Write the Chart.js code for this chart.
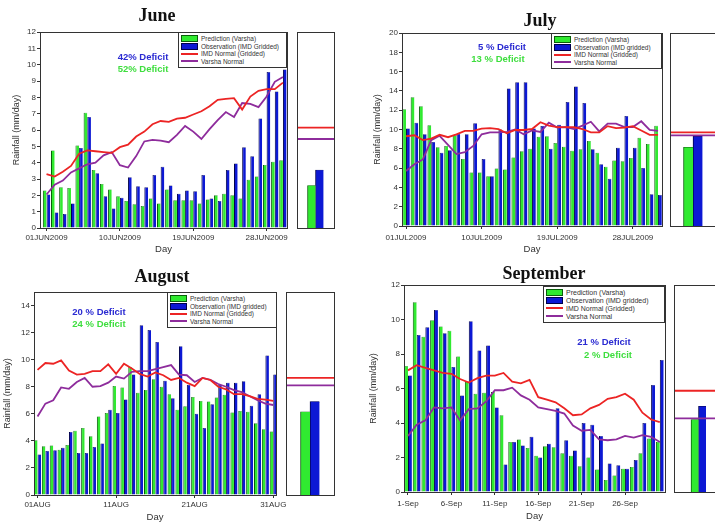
<!DOCTYPE html>
<html>
<head>
<meta charset="utf-8">
<script src="https://cdn.jsdelivr.net/npm/chart.js@4.4.1/dist/chart.umd.min.js"></script>
<style>
  html, body { margin: 0; padding: 0; background: #fff; overflow: hidden; }
  #page { position: relative; width: 715px; height: 524px; overflow: hidden; }
  #page canvas { position: absolute; left: 0; top: 0; }
  .ttl { position: absolute; transform: translate(-50%, -50%); white-space: nowrap;
         font: bold 18px "Liberation Serif", "Times New Roman", serif; color: #111; }
  .note { position: absolute; transform: translate(-50%, -50%); white-space: nowrap;
          font: bold 9.5px "Liberation Sans", Arial, sans-serif; }
  .lgd { position: absolute; box-sizing: border-box; background: #fff; border: 1px solid #333;
         font-family: "Liberation Sans", Arial, sans-serif; color: #333; padding: 2px 0 2px 0; z-index: 5; }
  .lgd .row { display: flex; align-items: center; white-space: nowrap; padding-left: 2px; }
  .lgd .sw { display: inline-block; width: 17px; margin-right: 3px; box-sizing: border-box; }
  .lgd .sw.bar { height: 7px; border: 1px solid; }
  .lgd .sw.ln { height: 2px; }
</style>
</head>
<body>
<div id="page"></div>
<script>
// ---- June ----
const junePred   = [2.3, 4.75, 2.5, 2.45, 5.05, 7.05, 3.55, 2.7, 2.35, 1.95, 1.65, 1.45, 1.35, 1.8, 1.5, 2.35, 1.7, 1.7, 1.7, 1.5, 1.75, 2.0, 2.1, 2.0, 1.8, 2.95, 3.15, 3.85, 4.05, 4.15];
const juneObs    = [2.05, 0.95, 0.85, 1.5, 4.9, 6.8, 3.35, 1.95, 1.2, 1.85, 3.1, 2.55, 2.5, 3.25, 3.75, 2.6, 2.1, 2.3, 2.25, 3.25, 1.8, 1.65, 3.55, 3.95, 4.95, 4.4, 6.7, 9.55, 8.35, 9.7];
const juneImd    = [3.3, 3.15, 3.45, 3.8, 4.55, 4.75, 4.7, 4.65, 4.6, 4.95, 5.1, 5.6, 5.9, 6.35, 6.55, 6.5, 6.7, 6.75, 6.95, 7.15, 7.45, 7.85, 7.9, 7.95, 7.25, 8.05, 8.4, 8.5, 8.5, 8.9];
const juneVarsha = [2.05, 2.65, 2.9, 3.4, 3.65, 3.9, 4.0, 4.45, 4.65, 3.85, 3.7, 4.4, 5.3, 5.4, 5.35, 5.25, 5.7, 6.25, 5.9, 5.45, 6.05, 6.6, 7.1, 6.8, 7.65, 7.6, 7.4, 8.05, 8.95, 9.25];
const juneSide   = [2.6, 3.55, 6.15, 5.45];   // pred, obs, IMD normal, Varsha normal (monthly mean)
const juneNotes  = ['42% Deficit', '52% Deficit'];
const juneTickDays = [1, 10, 19, 28];
const juneTickLabels = ['01JUN2009', '10JUN2009', '19JUN2009', '28JUN2009'];
const juneYTicks = [0, 1, 2, 3, 4, 5, 6, 7, 8, 9, 10, 11, 12];

// ---- July ----
const julyPred   = [12.1, 13.35, 12.4, 10.45, 8.15, 8.3, 9.4, 6.95, 5.55, 5.55, 5.15, 5.95, 5.85, 7.1, 7.75, 8.0, 9.25, 9.3, 8.6, 8.2, 7.8, 7.95, 8.8, 7.6, 6.15, 6.8, 6.7, 7.05, 9.15, 8.5, 10.4];
const julyObs    = [10.1, 10.7, 9.5, 8.7, 7.6, 7.85, 9.55, 9.5, 10.65, 6.95, 5.15, 10.0, 14.25, 14.9, 14.9, 10.1, 10.35, 8.0, 10.5, 12.85, 14.45, 12.75, 7.95, 6.4, 4.9, 8.1, 11.4, 8.1, 6.0, 3.3, 3.2];
const julyImd    = [9.3, 9.4, 8.9, 9.05, 9.45, 9.2, 9.5, 9.85, 9.85, 10.1, 10.15, 10.05, 9.6, 9.95, 9.95, 10.05, 10.75, 10.4, 10.25, 10.25, 10.25, 10.05, 9.7, 9.7, 10.35, 10.15, 10.2, 10.35, 9.9, 9.45, 9.45];
const julyVarsha = [5.7, 6.4, 6.9, 8.9, 9.35, 8.4, 7.45, 7.65, 8.3, 9.5, 9.7, 9.7, 9.75, 10.0, 9.5, 9.9, 9.75, 10.7, 10.2, 10.25, 10.05, 10.4, 10.8, 9.8, 10.6, 10.6, 10.25, 10.25, 10.85, 9.95, 9.85];
const julySide   = [8.15, 9.3, 9.7, 9.4];
const julyNotes  = ['5 % Deficit', '13 % Deficit'];
const julyTickDays = [1, 10, 19, 28];
const julyTickLabels = ['01JUL2009', '10JUL2009', '19JUL2009', '28JUL2009'];
const julyYTicks = [0, 2, 4, 6, 8, 10, 12, 14, 16, 18, 20];

// ---- August ----
const augPred    = [4.05, 3.6, 3.65, 3.35, 3.7, 4.75, 4.95, 4.35, 5.8, 6.05, 8.05, 7.95, 9.45, 7.55, 7.75, 8.55, 8.0, 7.45, 6.3, 6.55, 7.25, 6.95, 6.9, 7.2, 7.4, 6.1, 6.2, 6.15, 5.3, 4.85, 4.7];
const augObs     = [3.0, 3.25, 3.3, 3.5, 4.65, 3.1, 3.1, 3.55, 3.8, 6.3, 6.05, 7.05, 8.9, 12.55, 12.2, 11.3, 8.45, 7.15, 11.0, 8.15, 6.0, 4.95, 6.7, 8.15, 8.3, 8.3, 8.4, 6.6, 7.45, 10.3, 8.9];
const augImd     = [9.25, 9.75, 9.7, 9.95, 9.2, 8.9, 8.95, 9.15, 9.15, 9.65, 8.95, 9.7, 9.35, 8.95, 8.75, 9.05, 8.85, 8.5, 8.65, 8.3, 8.05, 8.65, 8.5, 8.0, 7.8, 7.45, 7.45, 7.3, 7.1, 7.05, 6.95];
const augVarsha  = [5.8, 6.75, 7.0, 7.95, 7.85, 8.35, 8.65, 8.0, 8.05, 8.3, 8.75, 8.6, 9.1, 9.15, 9.15, 9.3, 9.45, 9.6, 8.9, 8.85, 8.35, 8.65, 8.5, 8.2, 8.0, 7.75, 7.6, 7.3, 7.0, 6.75, 6.65];
const augSide    = [6.15, 6.9, 8.65, 8.1];
const augNotes   = ['20 % Deficit', '24 % Deficit'];
const augTickDays = [1, 11, 21, 31];
const augTickLabels = ['01AUG', '11AUG', '21AUG', '31AUG'];
const augYTicks  = [0, 2, 4, 6, 8, 10, 12, 14];

// ---- September ----
const sepPred    = [7.3, 11.0, 9.0, 9.95, 9.6, 9.35, 7.85, 6.4, 5.7, 5.75, 5.8, 4.45, 2.9, 3.05, 2.55, 2.1, 2.65, 2.6, 2.25, 2.1, 1.5, 2.0, 1.3, 0.7, 0.95, 1.35, 1.45, 2.25, 3.1, 2.9];
const sepObs     = [6.75, 9.1, 9.55, 10.55, 9.2, 7.25, 5.6, 9.9, 8.2, 8.5, 4.9, 1.6, 2.9, 2.7, 3.2, 2.0, 2.8, 4.85, 3.0, 2.4, 4.0, 3.9, 3.25, 1.65, 1.55, 1.35, 1.85, 4.0, 6.2, 7.65];
const sepImd     = [7.05, 7.35, 7.2, 7.05, 6.9, 6.85, 6.55, 6.35, 6.6, 6.75, 6.75, 6.9, 6.4, 6.3, 6.5, 5.5, 5.35, 5.2, 4.85, 4.45, 4.5, 4.85, 5.05, 5.4, 5.5, 5.7, 5.35, 4.6, 4.2, 4.05];
const sepVarsha  = [3.25, 3.9, 4.15, 4.9, 4.85, 4.9, 4.15, 4.8, 4.85, 5.25, 5.9, 5.9, 6.05, 5.6, 5.35, 4.9, 4.8, 4.7, 4.55, 3.85, 3.55, 3.6, 3.05, 3.0, 3.05, 3.25, 3.15, 3.3, 3.2, 2.9];
const sepSide    = [4.2, 4.97, 5.87, 4.27];
const sepNotes   = ['21 % Deficit', '2 % Deficit'];
const sepTickDays = [1, 6, 11, 16, 21, 26];
const sepTickLabels = ['1-Sep', '6-Sep', '11-Sep', '16-Sep', '21-Sep', '26-Sep'];
const sepYTicks  = [0, 2, 4, 6, 8, 10, 12];

const SIDE_SLOTS = ['', 'mean', ''];

const W = 740, H = 524;
const GREEN = '#30ea30', GREEN_EDGE = '#0b5e0b';
const BLUE = '#0c18d4', BLUE_EDGE = '#00004a';
const RED = '#ec2424', PURPLE = '#8e2c9c';
const NOTE_COLORS = ['#2a2ad2', '#3ede3e'];

Chart.defaults.font.family = '"Liberation Sans", Arial, sans-serif';
Chart.defaults.color = '#333';

const PANELS = [
  { title: 'June', pred: junePred, obs: juneObs, imd: juneImd, varsha: juneVarsha, side: juneSide, notes: juneNotes,
    obsLabel: 'Observation (IMD Gridded)', xTicks: juneTickDays, xLabels: juneTickLabels, yTicks: juneYTicks,
    box: { l: 40, t: 32, r: 287, b: 228 }, xRange: [0.2, 30.5], yMax: 12, yTitleX: 17, xTitleY: 250, xPad: 2,
    sideBox: { l: 297, t: 32, r: 334, b: 228 }, sideBar: 8,
    titlePos: [157, 15], notePos: [[143, 56], [143, 68]], legend: [178, 32, 109, 36, 6.5] },
  { title: 'July', pred: julyPred, obs: julyObs, imd: julyImd, varsha: julyVarsha, side: julySide, notes: julyNotes,
    obsLabel: 'Observation (IMD gridded)', xTicks: julyTickDays, xLabels: julyTickLabels, yTicks: julyYTicks,
    box: { l: 402, t: 33, r: 662, b: 226 }, xRange: [0.52, 31.47], yMax: 20, yTitleX: 378, xTitleY: 250, xPad: 4,
    sideBox: { l: 670, t: 33, r: 716, b: 226 }, sideBar: 9.5,
    titlePos: [540, 20], notePos: [[502, 46], [498, 58]], legend: [551, 33, 111, 36, 6.5] },
  { title: 'August', pred: augPred, obs: augObs, imd: augImd, varsha: augVarsha, side: augSide, notes: augNotes,
    obsLabel: 'Observation (IMD gridded)', xTicks: augTickDays, xLabels: augTickLabels, yTicks: augYTicks,
    box: { l: 34, t: 292, r: 276, b: 495 }, xRange: [0.55, 31.35], yMax: 15, yTitleX: 8, xTitleY: 518, xPad: 2,
    sideBox: { l: 286, t: 292, r: 334, b: 495 }, sideBar: 9.5,
    titlePos: [162, 276], notePos: [[99, 311], [99, 323]], legend: [167, 292, 110, 36, 6.5] },
  { title: 'September', pred: sepPred, obs: sepObs, imd: sepImd, varsha: sepVarsha, side: sepSide, notes: sepNotes,
    obsLabel: 'Observation (IMD gridded)', xTicks: sepTickDays, xLabels: sepTickLabels, yTicks: sepYTicks,
    box: { l: 404, t: 285, r: 665, b: 492 }, xRange: [0.54, 30.6], yMax: 12, yTitleX: 374, xTitleY: 517, xPad: 3.5,
    sideBox: { l: 674, t: 285, r: 723, b: 492 }, sideBar: 7.5,
    titlePos: [544, 273], notePos: [[604, 341], [608, 354]], legend: [543, 286, 122, 37, 7] }
];

const page = document.getElementById('page');

// cadre complet autour de la zone de tracé
const framePlugin = {
  id: 'frame',
  afterDraw(chart) {
    const { ctx, chartArea: a } = chart;
    ctx.save();
    ctx.strokeStyle = '#333';
    ctx.lineWidth = 1;
    ctx.strokeRect(Math.round(a.left) + 0.5, Math.round(a.top) + 0.5, Math.round(a.width), Math.round(a.height));
    ctx.restore();
  }
};

function addCanvas() {
  const c = document.createElement('canvas');
  c.width = W; c.height = H;
  c.style.width = W + 'px'; c.style.height = H + 'px';
  page.appendChild(c);
  return c;
}

function addText(cls, text, [x, y], color) {
  const d = document.createElement('div');
  d.className = cls;
  d.textContent = text;
  d.style.left = x + 'px';
  d.style.top = y + 'px';
  if (color) d.style.color = color;
  page.appendChild(d);
}

const pts = vals => vals.map((y, i) => ({ x: i + 1, y }));

function barSet(label, data, fill, edge, extra) {
  return Object.assign({ type: 'bar', label, data, backgroundColor: fill, borderColor: edge,
    borderWidth: { left: 1, right: 0, top: 0.5, bottom: 0 }, order: 1 }, extra || {});
}
function lineSet(label, data, color) {
  return { type: 'line', label, data, borderColor: color, borderWidth: 1.8, pointRadius: 0, tension: 0, order: 0 };
}

function mainChart(p) {
  const b = p.box;
  const yW = b.l - (p.yTitleX - 5.4);
  const xH = p.xTitleY + 5.4 - b.b;
  return new Chart(addCanvas(), {
    type: 'bar',
    data: { datasets: [
      barSet('Prediction (Varsha)', pts(p.pred), GREEN, GREEN_EDGE),
      barSet(p.obsLabel, pts(p.obs), BLUE, BLUE_EDGE),
      lineSet('IMD Normal (Gridded)', pts(p.imd), RED),
      lineSet('Varsha Normal', pts(p.varsha), PURPLE)
    ]},
    options: {
      responsive: false, animation: false, events: [],
      layout: { padding: { left: b.l - yW, top: b.t, right: W - b.r, bottom: H - b.b - xH } },
      datasets: { bar: { categoryPercentage: 0.9, barPercentage: 1 } },
      plugins: { legend: { display: false }, tooltip: { enabled: false } },
      scales: {
        x: {
          type: 'linear', min: p.xRange[0], max: p.xRange[1], offset: false,
          afterFit: s => { s.height = xH; },
          afterBuildTicks: s => { s.ticks = p.xTicks.map(v => ({ value: v })); },
          ticks: { autoSkip: false, maxRotation: 0, padding: p.xPad, font: { size: 8 }, color: '#333',
                   callback: (v, i) => p.xLabels[i] },
          grid: { drawOnChartArea: false, offset: false, tickLength: 3, color: '#333' },
          border: { color: '#333' },
          title: { display: true, text: 'Day', font: { size: 9.5 }, padding: 0, color: '#333' }
        },
        y: {
          min: 0, max: p.yMax,
          afterFit: s => { s.width = yW; },
          afterBuildTicks: s => { s.ticks = p.yTicks.map(v => ({ value: v })); },
          ticks: { padding: 1, font: { size: 8 }, color: '#333' },
          grid: { drawOnChartArea: false, tickLength: 3, color: '#333' },
          border: { color: '#333' },
          title: { display: true, text: 'Rainfall (mm/day)', font: { size: 9 }, padding: 0, color: '#333' }
        }
      }
    },
    plugins: [framePlugin]
  });
}

function sideChart(p) {
  const s = p.sideBox;
  const [pred, obs, imd, varsha] = p.side;
  const only = v => SIDE_SLOTS.map((_, i) => (i === 1 ? v : null));
  const across = v => SIDE_SLOTS.map(() => v);
  return new Chart(addCanvas(), {
    type: 'bar',
    data: { labels: SIDE_SLOTS, datasets: [
      barSet('Prediction (Varsha)', only(pred), GREEN, GREEN_EDGE, { barThickness: p.sideBar }),
      barSet(p.obsLabel, only(obs), BLUE, BLUE_EDGE, { barThickness: p.sideBar }),
      lineSet('IMD Normal (Gridded)', across(imd), RED),
      lineSet('Varsha Normal', across(varsha), PURPLE)
    ]},
    options: {
      responsive: false, animation: false, events: [],
      layout: { padding: { left: s.l, top: s.t, right: W - s.r, bottom: H - s.b } },
      plugins: { legend: { display: false }, tooltip: { enabled: false } },
      scales: {
        x: { display: false, offset: false, grid: { offset: false } },
        y: { display: false, min: 0, max: p.yMax }
      }
    },
    plugins: [framePlugin]
  });
}

function htmlLegend(chart, p) {
  const [x, y, w, h, fs] = p.legend;
  const box = document.createElement('div');
  box.className = 'lgd';
  Object.assign(box.style, { left: x + 'px', top: y + 'px', width: w + 'px', height: h + 'px', fontSize: fs + 'px' });
  const rowH = (h - 6) / chart.data.datasets.length;
  chart.data.datasets.forEach(ds => {
    const row = document.createElement('div');
    row.className = 'row';
    row.style.height = rowH + 'px';
    const sw = document.createElement('span');
    if (ds.type === 'bar') {
      sw.className = 'sw bar';
      sw.style.background = ds.backgroundColor;
      sw.style.borderColor = ds.borderColor;
    } else {
      sw.className = 'sw ln';
      sw.style.background = ds.borderColor;
    }
    row.append(sw, document.createTextNode(ds.label));
    box.appendChild(row);
  });
  page.appendChild(box);
}

PANELS.forEach(p => {
  const main = mainChart(p);
  sideChart(p);
  htmlLegend(main, p);
  addText('ttl', p.title, p.titlePos);
  p.notes.forEach((t, i) => addText('note', t, p.notePos[i], NOTE_COLORS[i]));
});
</script>
</body>
</html>
